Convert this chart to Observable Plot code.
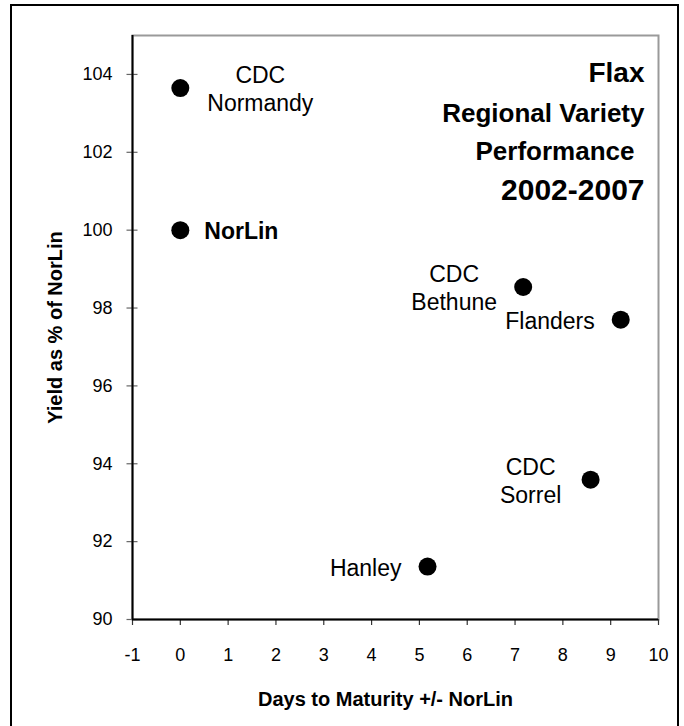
<!DOCTYPE html>
<html>
<head>
<meta charset="utf-8">
<script src="https://cdn.jsdelivr.net/npm/d3@7"></script>
<script src="https://cdn.jsdelivr.net/npm/@observablehq/plot@0.6"></script>
<style>
  html, body { margin: 0; padding: 0; background: #fff; }
  body { width: 684px; height: 726px; position: relative; overflow: hidden; font-family: "Liberation Sans", Arial, sans-serif; }
  #frame { position: absolute; left: 10px; top: 4px; width: 669px; height: 740px; border: 2px solid #000; box-sizing: border-box; pointer-events: none; }
  #chart { position: absolute; left: 0; top: 0; }
</style>
</head>
<body>
<div id="chart"></div>
<div id="frame"></div>
<script>
// ---- data ----
const varieties = ["CDC\nNormandy", "NorLin", "CDC\nBethune", "Flanders", "CDC\nSorrel", "Hanley"];
const daysToMaturity = [0, 0, 7.17, 9.21, 8.58, 5.17];
const yieldPct = [103.65, 100, 98.54, 97.7, 93.59, 91.36];
const xTicks = [-1, 0, 1, 2, 3, 4, 5, 6, 7, 8, 9, 10];
const yTicks = [90, 92, 94, 96, 98, 100, 102, 104];
const titleLines = ["Flax", "Regional Variety", "Performance", "2002-2007"];
const xTitle = "Days to Maturity +/- NorLin";
const yTitle = "Yield as % of NorLin";

// ---- label layout (styles, not data) ----
const labelLayout = {
  "CDC\nNormandy": {textAnchor: "middle", dx: 80, fontWeight: "normal"},
  "NorLin": {textAnchor: "start", dx: 24, fontWeight: "bold"},
  "CDC\nBethune": {textAnchor: "middle", dx: -69, fontWeight: "normal"},
  "Flanders": {textAnchor: "end", dx: -26, fontWeight: "normal"},
  "CDC\nSorrel": {textAnchor: "middle", dx: -60, fontWeight: "normal"},
  "Hanley": {textAnchor: "end", dx: -26, fontWeight: "normal"}
};
const titleLayout = [
  {fontSize: 28, dy: 38, dx: -14},
  {fontSize: 26, dy: 78, dx: -14},
  {fontSize: 26, dy: 116, dx: -24},
  {fontSize: 30, dy: 155, dx: -14}
];

const data = varieties.map((v, i) => ({variety: v, days: daysToMaturity[i], yield: yieldPct[i]}));

const font = "'Liberation Sans', Arial, sans-serif";

const labelMarks = data.map(d => Plot.text([d], {
  x: "days", y: "yield", text: "variety",
  textAnchor: labelLayout[d.variety].textAnchor,
  dx: labelLayout[d.variety].dx,
  fontWeight: labelLayout[d.variety].fontWeight,
  lineAnchor: "middle",
  lineHeight: 1.22,
  fontSize: 23,
  fill: "#000"
}));

const titleMarks = titleLines.map((t, i) => Plot.text([t], {
  frameAnchor: "top-right",
  textAnchor: "end",
  lineAnchor: "middle",
  dx: titleLayout[i].dx,
  dy: titleLayout[i].dy,
  fontSize: titleLayout[i].fontSize,
  fontWeight: "bold",
  fill: "#000"
}));

const chart = Plot.plot({
  width: 684,
  height: 726,
  marginLeft: 132,
  marginRight: 26,
  marginTop: 35,
  marginBottom: 107,
  style: {fontFamily: font, background: "transparent", overflow: "visible"},
  x: {domain: [-1, 10], axis: null},
  y: {domain: [90, 105], axis: null},
  marks: [
    Plot.frame({stroke: "#9a9a9a", strokeWidth: 2}),
    // y tick lines crossing the axis
    Plot.axisY(yTicks, {tickSize: 11, dx: 5.5, tickFormat: () => "", stroke: "#666", strokeWidth: 1.2, label: null}),
    // y tick labels
    Plot.axisY(yTicks, {tickSize: 0, tickPadding: 20, fontSize: 18, fill: "#000", label: null, tickFormat: d => String(d)}),
    // x ticks + labels
    Plot.axisX(xTicks, {tickSize: 6, tickPadding: 23, fontSize: 18, stroke: "#333", strokeWidth: 1.2, fill: "#000", label: null, tickFormat: d => String(d)}),
    Plot.ruleX([-1], {stroke: "#000", strokeWidth: 2}),
    Plot.ruleY([90], {stroke: "#000", strokeWidth: 2}),
    Plot.dot(data, {x: "days", y: "yield", r: 9, fill: "#000", stroke: "none"}),
    ...labelMarks,
    ...titleMarks,
    Plot.text([xTitle], {frameAnchor: "bottom", dy: 80, dx: -10, lineAnchor: "middle", textAnchor: "middle", fontSize: 20, fontWeight: "bold", fill: "#000"}),
    Plot.text([yTitle], {frameAnchor: "left", dx: -77, rotate: -90, lineAnchor: "middle", textAnchor: "middle", fontSize: 20, fontWeight: "bold", fill: "#000"})
  ]
});
document.getElementById("chart").appendChild(chart);
</script>
</body>
</html>
